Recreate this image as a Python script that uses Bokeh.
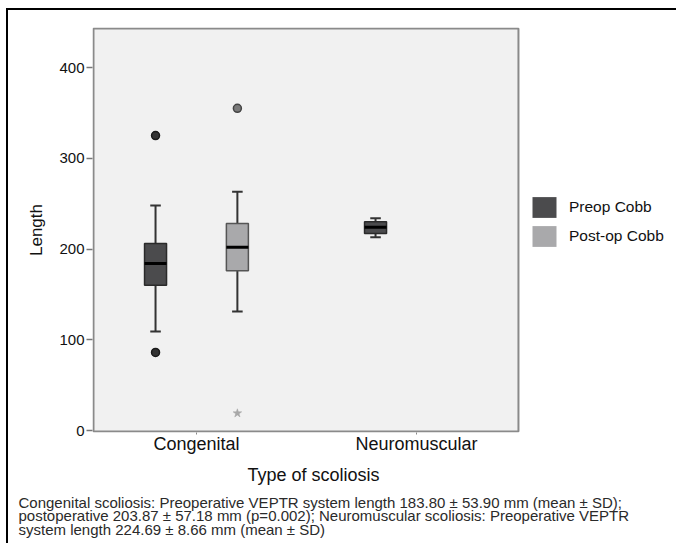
from bokeh.plotting import figure
from bokeh.models import (Range1d, FixedTicker, Legend, LegendItem, ColumnDataSource, Title)
from bokeh.embed import file_html
from bokeh.resources import INLINE

# ---------------- data ----------------
categories = ["Congenital", "Neuromuscular"]
series_names = ["Preop Cobb", "Post-op Cobb"]

box_category = ["Congenital", "Congenital", "Neuromuscular"]
box_series = ["Preop Cobb", "Post-op Cobb", "Preop Cobb"]
box_q1 = [160, 176, 217]
box_median = [184, 202, 224]
box_q3 = [206, 228, 230]
box_low = [109, 131, 213]
box_high = [248, 263, 234]

outlier_category = ["Congenital", "Congenital", "Congenital"]
outlier_series = ["Preop Cobb", "Preop Cobb", "Post-op Cobb"]
outlier_value = [325, 86, 355]

extreme_category = ["Congenital"]
extreme_series = ["Post-op Cobb"]
extreme_value = [19]

y_ticks = [0, 100, 200, 300, 400]
x_title = "Type of scoliosis"
y_title = "Length"

caption_lines = [
    "Congenital scoliosis: Preoperative VEPTR system length 183.80 \u00b1 53.90 mm (mean \u00b1 SD);",
    "postoperative 203.87 \u00b1 57.18 mm (p=0.002); Neuromuscular scoliosis: Preoperative VEPTR",
    "system length 224.69 \u00b1 8.66 mm (mean \u00b1 SD)",
]

# ---------------- styles / layout constants ----------------
FONT = "Liberation Sans"
fill_map = {"Preop Cobb": "#4b4b4d", "Post-op Cobb": "#a9a9ab"}
edge_map = {"Preop Cobb": "#2a2a2a", "Post-op Cobb": "#555555"}
out_fill = {"Preop Cobb": "#333333", "Post-op Cobb": "#7a7a7a"}
out_line = {"Preop Cobb": "#1a1a1a", "Post-op Cobb": "#444444"}
offsets = {"Preop Cobb": -0.186, "Post-op Cobb": 0.186}
BOX_W = 0.1
CAP_W = 0.048

PX_X = 220.0          # pixels per category step
PX_Y = 0.9075         # pixels per unit of length
AREA_X0, AREA_X1 = -0.468, 1.4636   # visible plot box (category units)
AREA_Y0, AREA_Y1 = -1.1, 443.0      # visible plot box (length units)

FIG_W, FIG_H = 670, 535
B_LEFT, B_TOP, B_BOTTOM = 84, 17, 113
frame_w = FIG_W - B_LEFT
frame_h = FIG_H - B_TOP - B_BOTTOM
x0 = AREA_X0 - 1 / PX_X
y0 = AREA_Y0 - 1 / PX_Y

p = figure(width=FIG_W, height=FIG_H, output_backend="svg", toolbar_location=None,
           x_range=Range1d(x0, x0 + frame_w / PX_X),
           y_range=Range1d(y0, y0 + frame_h / PX_Y),
           min_border_left=B_LEFT, min_border_right=0, min_border_top=B_TOP,
           min_border_bottom=B_BOTTOM)
p.margin = (8, 0, 0, 6)
p.styles = {"border-top": "2px solid black", "border-left": "2px solid black"}
p.background_fill_color = "white"
p.border_fill_color = "white"
p.outline_line_color = None
p.xgrid.visible = False
p.ygrid.visible = False

# plot box (grey area with grey border)
p.quad(left=[AREA_X0], right=[AREA_X1], bottom=[AREA_Y0], top=[AREA_Y1],
       fill_color="#f1f1f1", line_color="#8a8a8a", line_width=2)


def xpos(cat, ser):
    return categories.index(cat) + offsets[ser]


bx = [xpos(c, s) for c, s in zip(box_category, box_series)]
src = ColumnDataSource(dict(
    x=bx, q1=box_q1, q2=box_median, q3=box_q3, lo=box_low, hi=box_high,
    cx0=[x - CAP_W / 2 for x in bx], cx1=[x + CAP_W / 2 for x in bx],
    mx0=[x - BOX_W / 2 for x in bx], mx1=[x + BOX_W / 2 for x in bx],
    edge=[edge_map[s] for s in box_series],
))

p.segment("x", "lo", "x", "q1", source=src, line_color="#333333", line_width=2)
p.segment("x", "q3", "x", "hi", source=src, line_color="#333333", line_width=2)
p.segment("cx0", "lo", "cx1", "lo", source=src, line_color="#333333", line_width=2)
p.segment("cx0", "hi", "cx1", "hi", source=src, line_color="#333333", line_width=2)

legend_items = []
for name in series_names:
    idx = [i for i, s in enumerate(box_series) if s == name]
    s_src = ColumnDataSource(dict(x=[bx[i] for i in idx], q1=[box_q1[i] for i in idx],
                                  q3=[box_q3[i] for i in idx]))
    r = p.vbar(x="x", width=BOX_W, bottom="q1", top="q3", source=s_src,
               fill_color=fill_map[name], line_color=None)
    legend_items.append(LegendItem(label=name, renderers=[r]))

p.vbar(x="x", width=BOX_W, bottom="q1", top="q3", source=src,
       fill_color=None, line_color="edge", line_width=1.5)
p.segment("mx0", "q2", "mx1", "q2", source=src, line_color="black", line_width=3)

osrc = ColumnDataSource(dict(
    x=[xpos(c, s) for c, s in zip(outlier_category, outlier_series)],
    y=outlier_value,
    f=[out_fill[s] for s in outlier_series],
    l=[out_line[s] for s in outlier_series],
))
p.scatter("x", "y", source=osrc, marker="circle", size=8, fill_color="f",
          line_color="l", line_width=1.5)

esrc = ColumnDataSource(dict(
    x=[xpos(c, s) for c, s in zip(extreme_category, extreme_series)],
    y=extreme_value,
))
p.scatter("x", "y", source=esrc, marker="star", size=9, fill_color="#a8a8a8",
          line_color="#a0a0a0", line_width=0.5)

# axes
xa = p.xaxis[0]
xa.ticker = FixedTicker(ticks=list(range(len(categories))))
xa.major_label_overrides = {i: c for i, c in enumerate(categories)}
xa.axis_line_color = None
xa.major_tick_out = 2
xa.major_tick_in = 0
xa.major_tick_line_color = "#888888"
xa.minor_tick_line_color = None
xa.major_label_standoff = -1
xa.major_label_text_font = FONT
xa.major_label_text_font_size = "18px"
xa.major_label_text_color = "#111111"

ya = p.yaxis[0]
ya.ticker = FixedTicker(ticks=y_ticks)
ya.axis_label = y_title
ya.axis_line_color = None
ya.major_tick_out = 6
ya.major_tick_in = 0
ya.major_tick_line_color = "#777777"
ya.major_tick_line_width = 1.5
ya.minor_tick_line_color = None
ya.major_label_standoff = 2
ya.major_label_text_font = FONT
ya.major_label_text_font_size = "15px"
ya.major_label_text_color = "#111111"
ya.axis_label_text_font = FONT
ya.axis_label_text_font_size = "17px"
ya.axis_label_text_font_style = "normal"
ya.axis_label_text_color = "#111111"
ya.axis_label_standoff = 10

# legend, inside the (white) frame to the right of the plot box
legend = Legend(items=legend_items, location=(437, 183), glyph_width=30, glyph_height=26,
                label_height=26, spacing=3, label_standoff=10, padding=0, margin=0,
                border_line_color=None, background_fill_alpha=0,
                label_text_font=FONT, label_text_font_size="15.5px",
                label_text_color="#111111")
p.add_layout(legend)

# x axis title (placed like the reference, not centred on the frame)
p.add_layout(Title(text=x_title, align="left", offset=155, standoff=12,
                   text_font=FONT, text_font_size="18px", text_font_style="normal",
                   text_color="#111111"), "below")

# caption lines below
for line, so in zip(caption_lines, [2, -13, 2]):
    p.add_layout(Title(text=line, align="left", offset=-74, standoff=so,
                       text_font=FONT, text_font_size="15px", text_font_style="normal",
                       text_color="#2a2a2a"), "below")

open("out.html", "w").write(file_html(p, INLINE))
